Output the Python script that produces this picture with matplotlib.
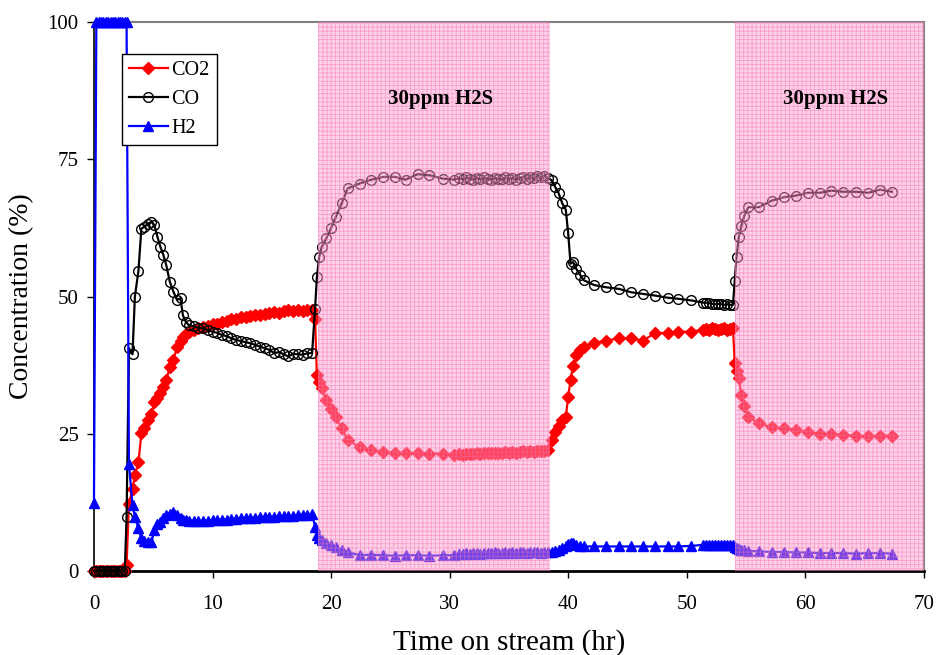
import matplotlib
matplotlib.use("Agg")
import matplotlib.pyplot as plt

plt.rcParams['font.family'] = ['Liberation Serif', 'DejaVu Serif']
plt.rcParams['hatch.linewidth'] = 0.6

# time on stream (hr), shared by all three series
time_hr = [0, 0.2, 0.4, 0.6, 0.8, 1.0, 1.2, 1.4, 1.6, 1.8, 2.0, 2.2, 2.4, 2.6, 2.75,
           2.95, 3.25, 3.45, 3.75, 4.0, 4.25, 4.55, 4.85, 5.1, 5.35, 5.6, 5.85, 6.1, 6.4, 6.7,
           7.0, 7.3, 7.5, 7.75, 8.0,
           8.4, 8.8, 9.2, 9.6, 10.0, 10.4, 10.8, 11.2, 11.6, 12.0, 12.4, 12.8, 13.2, 13.6,
           14.0, 14.4, 14.8, 15.2, 15.6, 16.0, 16.4, 16.8, 17.2, 17.6, 18.0, 18.4,
           18.65, 18.8, 19.0, 19.2, 19.6, 20.0, 20.4, 20.9, 21.4, 22.4, 23.4, 24.4, 25.4,
           26.3, 27.3, 28.3, 29.4, 30.4,
           30.8, 31.1, 31.4, 31.7, 32.0, 32.3, 32.6, 32.9, 33.2, 33.5, 33.8, 34.1, 34.4,
           34.7, 35.0, 35.3, 35.6, 35.9, 36.2, 36.5, 36.8, 37.1, 37.4, 37.7, 38.0, 38.3,
           38.6, 38.9, 39.2, 39.5, 39.8, 40.0, 40.2, 40.4, 40.7, 41.0, 41.3, 42.2, 43.2,
           44.3, 45.3, 46.3, 47.3, 48.4, 49.3, 50.4,
           51.4, 51.65, 51.9, 52.15, 52.4, 52.65, 52.9, 53.15, 53.4, 53.65, 53.9,
           54.05, 54.2, 54.4, 54.6, 54.85, 55.2, 56.1, 57.2, 58.2, 59.2, 60.2, 61.2, 62.2,
           63.2, 64.3, 65.3, 66.3, 67.3]

co2 = [0, 0, 0, 0, 0, 0, 0, 0, 0, 0, 0, 0, 0, 0, 1.1,
       12.3, 15.0, 17.5, 19.8, 25.1, 26.0, 27.5, 28.7, 30.8, 31.6, 32.5, 33.6, 34.8, 37.2, 38.4,
       40.9, 42.0, 42.7, 43.2, 43.6,
       44.0, 44.3, 44.5, 44.7, 45.0, 45.1, 45.4, 45.6, 45.9, 46.0, 46.2, 46.3, 46.5, 46.6,
       46.7, 46.9, 47.0, 47.2, 47.1, 47.3, 47.5, 47.4, 47.5, 47.4, 47.6, 47.5,
       46.0, 35.7, 34.5, 33.3, 31.1, 29.5, 28.1, 26.0, 23.9, 22.6, 22.0, 21.7, 21.6,
       21.5, 21.5, 21.4, 21.4, 21.1,
       21.3, 21.2, 21.4, 21.3, 21.4, 21.5, 21.4, 21.5, 21.6, 21.5, 21.6, 21.5, 21.6,
       21.7, 21.6, 21.7, 21.6, 21.7, 21.8, 21.7, 21.8, 21.7, 21.8, 21.9, 21.8, 22.0,
       23.9, 25.3, 26.5, 27.5, 28.1, 31.8, 34.8, 37.3, 39.3, 40.3, 40.8, 41.6, 42.0,
       42.4, 42.4, 42.0, 43.3, 43.4, 43.6, 43.6,
       44.0, 44.1, 44.0, 44.2, 44.1, 44.0, 44.1, 44.2, 44.0, 44.1, 44.2,
       37.9, 36.5, 35.2, 32.1, 30.1, 28.1, 26.9, 26.2, 26.0, 25.7, 25.4, 25.0, 25.0,
       24.8, 24.7, 24.6, 24.7, 24.7]

co = [0, 0, 0, 0, 0, 0, 0, 0, 0, 0, 0, 0, 0, 0, 9.9,
      40.6, 39.5, 50.0, 54.7, 62.4, 62.7, 63.3, 63.6, 63.0, 60.9, 59.1, 57.6, 55.7, 52.7, 50.9,
      49.4, 49.7, 46.6, 45.4, 44.8,
      44.6, 44.3, 44.2, 43.9, 43.6, 43.4, 43.0, 42.8, 42.4, 42.1, 41.9, 41.7, 41.5, 41.2,
      40.9, 40.6, 40.3, 39.7, 39.9, 39.5, 39.1, 39.6, 39.5, 39.4, 39.7, 39.7,
      47.8, 53.5, 57.3, 59.0, 60.6, 62.5, 64.5, 67.0, 69.7, 70.6, 71.3, 71.8, 71.8,
      71.3, 72.3, 72.1, 71.5, 71.3,
      71.6, 71.4, 71.7, 71.5, 71.3, 71.6, 71.4, 71.7, 71.5, 71.3, 71.6, 71.5, 71.4,
      71.7, 71.5, 71.6, 71.3, 71.6, 71.8, 71.5, 71.7, 71.6, 71.9, 71.7, 72.0, 71.6,
      71.2, 70.0, 68.8, 67.0, 65.8, 61.5, 56.0, 56.3, 55.0, 54.0, 53.0, 52.1, 51.7,
      51.4, 50.8, 50.5, 50.2, 49.8, 49.6, 49.3,
      48.9, 48.9, 48.8, 48.7, 48.6, 48.7, 48.6, 48.5, 48.6, 48.5, 48.5,
      52.9, 57.3, 60.9, 62.8, 64.7, 66.3, 66.3, 67.5, 68.1, 68.4, 68.9, 68.9, 69.3,
      69.1, 69.1, 68.9, 69.5, 69.1]

h2 = [12.5, 100, 100, 100, 100, 100, 100, 100, 100, 100, 100, 100, 100, 100, 100,
      19.6, 12.0, 9.9, 7.8, 6.0, 5.5, 5.3, 5.3, 7.5, 8.5, 9.0, 9.6, 10.2, 10.5, 10.8,
      10.2, 9.6, 9.4, 9.3, 9.2,
      9.2, 9.1, 9.2, 9.2, 9.3, 9.3, 9.4, 9.4, 9.5, 9.5, 9.6, 9.6, 9.7, 9.7,
      9.8, 9.8, 9.9, 9.9, 10.0, 10.0, 10.1, 10.1, 10.2, 10.3, 10.3, 10.4,
      8.1, 6.6, 6.0, 5.6, 5.1, 4.7, 4.4, 3.9, 3.5, 2.9, 3.0, 2.9, 2.8,
      2.9, 2.9, 2.8, 2.9, 2.9,
      3.2, 3.2, 3.3, 3.2, 3.3, 3.3, 3.2, 3.3, 3.3, 3.3, 3.4, 3.3, 3.3,
      3.4, 3.3, 3.4, 3.3, 3.4, 3.4, 3.3, 3.4, 3.4, 3.4, 3.3, 3.4, 3.4,
      3.4, 3.6, 3.9, 4.2, 4.6, 5.0, 5.2, 5.1, 4.8, 4.6, 4.5, 4.5, 4.5,
      4.5, 4.5, 4.5, 4.5, 4.5, 4.5, 4.6,
      4.8, 4.7, 4.8, 4.7, 4.8, 4.8, 4.7, 4.8, 4.8, 4.7, 4.8,
      4.4, 4.2, 4.0, 3.9, 3.8, 3.7, 3.6, 3.5, 3.5, 3.4, 3.4, 3.3, 3.3,
      3.3, 3.2, 3.3, 3.3, 3.2]

h2s_periods = [(18.9, 38.5), (54.05, 70)]
h2s_label = "30ppm H2S"

fig = plt.figure(figsize=(9.36, 6.55), dpi=100)
ax = fig.add_axes([0.1004, 0.128, 0.8866, 0.8383])

ax.plot(time_hr, co2, color='red', lw=1.6, marker='D', ms=6,
        mec='red', mfc='red', label='CO2', clip_on=False, zorder=3)
ax.plot(time_hr, co, color='black', lw=1.6, marker='o', ms=7,
        mec='black', mfc='none', mew=1.0, label='CO', clip_on=False, zorder=4)
ax.plot(time_hr, h2, color='blue', lw=1.6, marker='^', ms=7,
        mec='blue', mfc='blue', label='H2', clip_on=False, zorder=5)

# pink shaded H2S windows sit over the data, like the original
for x0, x1 in h2s_periods:
    ax.axvspan(x0, x1, facecolor='#ff99cc', alpha=0.45, lw=0, zorder=6)
    ax.axvspan(x0, x1, facecolor='none', edgecolor='#f070b0', hatch='++++',
               lw=0, alpha=0.5, zorder=6)
    ax.text((x0 + min(x1, 71)) / 2 + 0.5, 86, h2s_label, ha='center', va='center',
            fontsize=15, fontweight='bold', zorder=8)

ax.set_xlim(0, 70)
ax.set_ylim(0, 100)
ax.set_xticks(range(0, 71, 10))
ax.set_yticks([0, 25, 50, 75, 100])
ax.tick_params(direction='out', length=5, width=1, labelsize=15, pad=12)
ax.tick_params(axis='y', pad=6)

for side in ['top', 'right']:
    ax.spines[side].set_color('#808080')
    ax.spines[side].set_linewidth(1.5)
ax.spines['left'].set_linewidth(1.2)
ax.spines['bottom'].set_linewidth(2)

ax.set_xlabel('Time on stream (hr)', fontsize=21, labelpad=11)
ax.set_ylabel('Concentration (%)', fontsize=20, labelpad=10)

leg = ax.legend(loc='upper left', bbox_to_anchor=(0.034, 0.942), borderaxespad=0,
                fontsize=14.5, frameon=True, fancybox=False, edgecolor='black',
                framealpha=1, handlelength=1.9, borderpad=0.35, labelspacing=0.5,
                handletextpad=0.2)
leg.get_frame().set_linewidth(1.0)
leg.set_zorder(10)

fig.savefig('out.png', dpi=100)
